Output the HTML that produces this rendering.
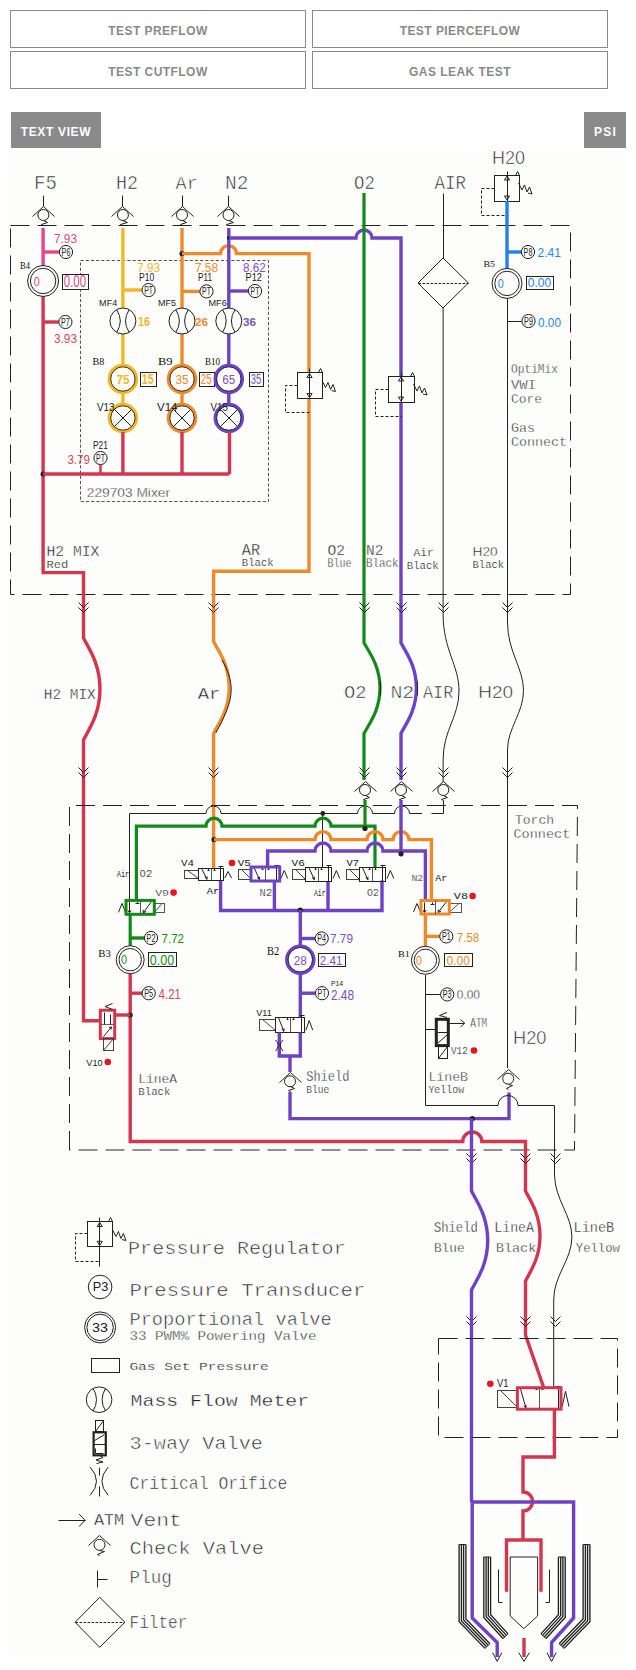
<!DOCTYPE html><html><head><meta charset="utf-8"><style>html,body{margin:0;padding:0;background:#fff;}body{width:636px;height:1670px;overflow:hidden;position:relative;font-family:"Liberation Sans",sans-serif;}.b{position:absolute;box-sizing:border-box;border:1px solid #8a8a8a;background:#fff;color:#8a8a8a;font-weight:bold;font-size:12px;text-align:center;letter-spacing:0.45px;}.g{position:absolute;background:#8a8a8a;color:#fff;font-weight:bold;font-size:12px;text-align:center;letter-spacing:0.45px;}svg{position:absolute;left:0;top:0;}</style></head><body>
<div class="b" style="left:10px;top:10px;width:296px;height:38px;line-height:40px;">TEST PREFLOW</div>
<div class="b" style="left:312px;top:10px;width:296px;height:38px;line-height:40px;">TEST PIERCEFLOW</div>
<div class="b" style="left:10px;top:51px;width:296px;height:38px;line-height:40px;">TEST CUTFLOW</div>
<div class="b" style="left:312px;top:51px;width:296px;height:38px;line-height:40px;">GAS LEAK TEST</div>
<div class="g" style="left:11px;top:112px;width:90px;height:36px;line-height:40px;letter-spacing:0.65px;">TEXT VIEW</div>
<div class="g" style="left:584px;top:112px;width:42px;height:36px;line-height:40px;letter-spacing:1.2px;text-indent:1px;">PSI</div>
<svg width="636" height="1670" viewBox="0 0 636 1670" style="top:0">
<rect x="8" y="150" width="620" height="1511" fill="#fdfdfc"/>
<rect x="10.5" y="225.5" width="560.0" height="369.0" fill="none" stroke="#222" stroke-width="1" stroke-dasharray="19,8"/>
<rect x="80.5" y="260.5" width="188.0" height="241.0" fill="none" stroke="#555" stroke-width="1" stroke-dasharray="3.2,2"/>
<text x="34.0" y="189.0" font-size="19.73" font-family="Liberation Mono" fill="#222" font-weight="normal" stroke="#fdfdfc" stroke-width="0.59" textLength="23.0" lengthAdjust="spacingAndGlyphs">F5</text>
<text x="116.0" y="189.0" font-size="19.73" font-family="Liberation Mono" fill="#222" font-weight="normal" stroke="#fdfdfc" stroke-width="0.59" textLength="22.0" lengthAdjust="spacingAndGlyphs">H2</text>
<text x="175.6" y="189.0" font-size="17.94" font-family="Liberation Mono" fill="#222" font-weight="normal" stroke="#fdfdfc" stroke-width="0.54" textLength="22.1" lengthAdjust="spacingAndGlyphs">Ar</text>
<text x="225.0" y="189.0" font-size="19.73" font-family="Liberation Mono" fill="#222" font-weight="normal" stroke="#fdfdfc" stroke-width="0.59" textLength="23.5" lengthAdjust="spacingAndGlyphs">N2</text>
<text x="354.0" y="189.0" font-size="19.73" font-family="Liberation Mono" fill="#222" font-weight="normal" stroke="#fdfdfc" stroke-width="0.59" textLength="20.8" lengthAdjust="spacingAndGlyphs">O2</text>
<text x="434.5" y="189.0" font-size="19.73" font-family="Liberation Mono" fill="#222" font-weight="normal" stroke="#fdfdfc" stroke-width="0.59" textLength="31.5" lengthAdjust="spacingAndGlyphs">AIR</text>
<text x="492.0" y="164.0" font-size="18.90" font-family="Liberation Sans" fill="#222" font-weight="normal" stroke="#fdfdfc" stroke-width="0.57" textLength="33.0" lengthAdjust="spacingAndGlyphs">H20</text>
<polyline points="43.5,195.5 43.5,206.5" fill="none" stroke="#222" stroke-width="1" />
<polyline points="32.5,216.5 43.5,206.5 54.5,216.5" fill="none" stroke="#222" stroke-width="1" />
<circle cx="43.4" cy="215.0" r="5.5" fill="none" stroke="#222" stroke-width="1"/>
<polyline points="43.5,220.5 47.5,222.5 41.5,224.5 43.5,225.5" fill="none" stroke="#222" stroke-width="1" />
<polyline points="122.5,195.5 122.5,206.5" fill="none" stroke="#222" stroke-width="1" />
<polyline points="111.5,216.5 122.5,206.5 133.5,216.5" fill="none" stroke="#222" stroke-width="1" />
<circle cx="122.9" cy="215.0" r="5.5" fill="none" stroke="#222" stroke-width="1"/>
<polyline points="122.5,220.5 127.5,222.5 120.5,224.5 122.5,225.5" fill="none" stroke="#222" stroke-width="1" />
<polyline points="182.5,195.5 182.5,206.5" fill="none" stroke="#222" stroke-width="1" />
<polyline points="171.5,216.5 182.5,206.5 193.5,216.5" fill="none" stroke="#222" stroke-width="1" />
<circle cx="182.0" cy="215.0" r="5.5" fill="none" stroke="#222" stroke-width="1"/>
<polyline points="182.5,220.5 186.5,222.5 180.5,224.5 182.5,225.5" fill="none" stroke="#222" stroke-width="1" />
<polyline points="228.5,195.5 228.5,206.5" fill="none" stroke="#222" stroke-width="1" />
<polyline points="217.5,216.5 228.5,206.5 239.5,216.5" fill="none" stroke="#222" stroke-width="1" />
<circle cx="228.5" cy="215.0" r="5.5" fill="none" stroke="#222" stroke-width="1"/>
<polyline points="228.5,220.5 233.5,222.5 226.5,224.5 228.5,225.5" fill="none" stroke="#222" stroke-width="1" />
<polyline points="43.1,228.0 43.1,266.0" fill="none" stroke="#e6458a" stroke-width="3.4" />
<polyline points="43.1,252.0 59.4,252.0" fill="none" stroke="#e6458a" stroke-width="3.4" />
<circle cx="66.0" cy="252.0" r="6.6" fill="#fdfdfc" stroke="#222" stroke-width="1"/>
<text x="61.6" y="255.6" font-size="10.47" font-family="Liberation Sans" fill="#222" font-weight="normal" textLength="8.8" lengthAdjust="spacingAndGlyphs">P6</text>
<text x="54.0" y="243.0" font-size="13.08" font-family="Liberation Sans" fill="#d84c86" font-weight="normal" textLength="23.0" lengthAdjust="spacingAndGlyphs">7.93</text>
<text x="20.0" y="269.0" font-size="10.69" font-family="Liberation Serif" fill="#111" font-weight="normal" textLength="10.0" lengthAdjust="spacingAndGlyphs">B4</text>
<path d="M43.1,296 V572.6 H83.5 V638 L83.5,638 C88.5,648.2 100.0,663.5 100.0,689.0 C100.0,714.5 88.5,729.8 83.5,740 V1020.7 H100.3" fill="none" stroke="#d2374f" stroke-width="3.4" />
<circle cx="43.1" cy="281.0" r="15.5" fill="#fdfdfc" stroke="#222" stroke-width="1"/>
<circle cx="43.1" cy="281.0" r="12.7" fill="none" stroke="#222" stroke-width="1"/>
<text x="33.8" y="285.6" font-size="13.08" font-family="Liberation Sans" fill="#d84c86" font-weight="normal" textLength="6.0" lengthAdjust="spacingAndGlyphs">0</text>
<rect x="62.5" y="274.5" width="26.0" height="15.0" fill="#fdfdfc" stroke="#222" stroke-width="1" />
<text x="63.8" y="287.0" font-size="15.70" font-family="Liberation Sans" fill="#d84c86" font-weight="normal" textLength="22.3" lengthAdjust="spacingAndGlyphs">0.00</text>
<polyline points="43.1,322.0 58.8,322.0" fill="none" stroke="#d2374f" stroke-width="3.4" />
<circle cx="65.4" cy="322.0" r="6.6" fill="#fdfdfc" stroke="#222" stroke-width="1"/>
<text x="61.0" y="325.6" font-size="10.47" font-family="Liberation Sans" fill="#222" font-weight="normal" textLength="8.8" lengthAdjust="spacingAndGlyphs">P7</text>
<text x="54.0" y="343.0" font-size="13.08" font-family="Liberation Sans" fill="#d04a5c" font-weight="normal" textLength="23.0" lengthAdjust="spacingAndGlyphs">3.93</text>
<circle cx="43.1" cy="474.0" r="2.6" fill="#222"/>
<polyline points="43.1,474.0 229.5,474.0" fill="none" stroke="#d2374f" stroke-width="3.4" />
<polyline points="122.9,228.0 122.9,366.0" fill="none" stroke="#f2b824" stroke-width="3.4" />
<polyline points="122.9,290.0 142.0,290.0" fill="none" stroke="#f2b824" stroke-width="3.4" />
<circle cx="148.6" cy="290.1" r="6.6" fill="#fdfdfc" stroke="#222" stroke-width="1"/>
<text x="144.2" y="293.7" font-size="10.47" font-family="Liberation Sans" fill="#222" font-weight="normal" textLength="8.8" lengthAdjust="spacingAndGlyphs">PT</text>
<text x="137.3" y="271.5" font-size="12.35" font-family="Liberation Sans" fill="#f0b830" font-weight="normal" textLength="22.7" lengthAdjust="spacingAndGlyphs">7.93</text>
<text x="139.0" y="280.5" font-size="10.32" font-family="Liberation Sans" fill="#222" font-weight="normal" textLength="15.2" lengthAdjust="spacingAndGlyphs">P10</text>
<text x="99.1" y="305.8" font-size="9.59" font-family="Liberation Sans" fill="#222" font-weight="normal" textLength="18.1" lengthAdjust="spacingAndGlyphs">MF4</text>
<circle cx="122.9" cy="321.0" r="13.0" fill="#fdfdfc" stroke="#222" stroke-width="1"/>
<path d="M116.8,309.9 Q123.8,321.0 116.8,332.1" fill="none" stroke="#222" stroke-width="1" />
<path d="M129.0,309.9 Q122.0,321.0 129.0,332.1" fill="none" stroke="#222" stroke-width="1" />
<text x="138.0" y="326.0" font-size="12.21" font-family="Liberation Sans" fill="#f0b830" font-weight="bold" textLength="12.0" lengthAdjust="spacingAndGlyphs">16</text>
<polyline points="122.9,392.0 122.9,405.0" fill="none" stroke="#f2b824" stroke-width="3.4" />
<circle cx="122.9" cy="379.0" r="13.6" fill="#fdfdfc" stroke="#f2b824" stroke-width="3.3"/>
<circle cx="122.9" cy="379.0" r="12.2" fill="none" stroke="#222" stroke-width="0.9"/>
<text x="116.4" y="384.4" font-size="13.08" font-family="Liberation Sans" fill="#f0b830" font-weight="bold" textLength="13.0" lengthAdjust="spacingAndGlyphs">75</text>
<rect x="140.5" y="372.5" width="16.0" height="14.0" fill="#fdfdfc" stroke="#222" stroke-width="1" />
<text x="141.8" y="384.0" font-size="14.24" font-family="Liberation Sans" fill="#f0b830" font-weight="bold" textLength="11.8" lengthAdjust="spacingAndGlyphs">15</text>
<text x="92.6" y="365.0" font-size="10.69" font-family="Liberation Serif" fill="#111" font-weight="normal" textLength="11.8" lengthAdjust="spacingAndGlyphs">B8</text>
<circle cx="122.9" cy="418.0" r="13.6" fill="#fdfdfc" stroke="#f2b824" stroke-width="3.3"/>
<circle cx="122.9" cy="418.0" r="12.2" fill="none" stroke="#222" stroke-width="0.9"/>
<polyline points="114.5,409.5 131.5,426.5" fill="none" stroke="#222" stroke-width="1" />
<polyline points="114.5,426.5 131.5,409.5" fill="none" stroke="#222" stroke-width="1" />
<text x="97.0" y="411.0" font-size="10.17" font-family="Liberation Sans" fill="#222" font-weight="normal" textLength="17.5" lengthAdjust="spacingAndGlyphs">V13</text>
<polyline points="122.9,432.0 122.9,474.0" fill="none" stroke="#d2374f" stroke-width="3.4" />
<circle cx="100.5" cy="458.0" r="6.6" fill="#fdfdfc" stroke="#222" stroke-width="1"/>
<text x="96.1" y="461.6" font-size="10.47" font-family="Liberation Sans" fill="#222" font-weight="normal" textLength="8.8" lengthAdjust="spacingAndGlyphs">PT</text>
<polyline points="100.5,465.0 100.5,474.0" fill="none" stroke="#d2374f" stroke-width="2.5" />
<text x="93.0" y="449.0" font-size="11.63" font-family="Liberation Sans" fill="#222" font-weight="normal" textLength="15.0" lengthAdjust="spacingAndGlyphs">P21</text>
<text x="67.4" y="464.0" font-size="13.08" font-family="Liberation Sans" fill="#d04a5c" font-weight="normal" textLength="22.6" lengthAdjust="spacingAndGlyphs">3.79</text>
<text x="86.8" y="496.6" font-size="12.50" font-family="Liberation Sans" fill="#222" font-weight="normal" stroke="#fdfdfc" stroke-width="0.34" textLength="83.2" lengthAdjust="spacingAndGlyphs">229703  Mixer</text>
<polyline points="182.0,228.0 182.0,366.0" fill="none" stroke="#ef8a2a" stroke-width="3.4" />
<circle cx="182.0" cy="253.6" r="2.6" fill="#222"/>
<path d="M182,253.6 H220.5 A8,8 0 0 1 236.5,253.6 H309 V571.3 H213.6 V641.6 L213.6,641.6 C218.3,650.8 229.2,664.5 229.2,687.5 C229.2,710.5 218.3,724.2 213.6,733.4 V868" fill="none" stroke="#ef8a2a" stroke-width="3.4" />
<polyline points="182.0,291.4 200.0,291.4" fill="none" stroke="#ef8a2a" stroke-width="3.4" />
<circle cx="206.5" cy="291.4" r="6.6" fill="#fdfdfc" stroke="#222" stroke-width="1"/>
<text x="202.1" y="295.0" font-size="10.47" font-family="Liberation Sans" fill="#222" font-weight="normal" textLength="8.8" lengthAdjust="spacingAndGlyphs">PT</text>
<text x="195.0" y="272.0" font-size="13.08" font-family="Liberation Sans" fill="#ef8a30" font-weight="normal" textLength="23.0" lengthAdjust="spacingAndGlyphs">7.58</text>
<text x="198.0" y="281.0" font-size="11.63" font-family="Liberation Sans" fill="#222" font-weight="normal" textLength="14.0" lengthAdjust="spacingAndGlyphs">P11</text>
<text x="158.0" y="305.8" font-size="9.59" font-family="Liberation Sans" fill="#222" font-weight="normal" textLength="18.0" lengthAdjust="spacingAndGlyphs">MF5</text>
<circle cx="182.0" cy="321.0" r="13.0" fill="#fdfdfc" stroke="#222" stroke-width="1"/>
<path d="M175.9,309.9 Q182.9,321.0 175.9,332.1" fill="none" stroke="#222" stroke-width="1" />
<path d="M188.1,309.9 Q181.1,321.0 188.1,332.1" fill="none" stroke="#222" stroke-width="1" />
<text x="195.0" y="326.0" font-size="11.63" font-family="Liberation Sans" fill="#ef8a30" font-weight="bold" textLength="13.0" lengthAdjust="spacingAndGlyphs">26</text>
<polyline points="182.0,392.0 182.0,405.0" fill="none" stroke="#ef8a2a" stroke-width="3.4" />
<circle cx="182.0" cy="379.0" r="13.6" fill="#fdfdfc" stroke="#ef8a2a" stroke-width="3.3"/>
<circle cx="182.0" cy="379.0" r="12.2" fill="none" stroke="#222" stroke-width="0.9"/>
<text x="175.5" y="384.4" font-size="13.08" font-family="Liberation Sans" fill="#ef8a30" font-weight="normal" textLength="13.0" lengthAdjust="spacingAndGlyphs">35</text>
<rect x="199.5" y="372.5" width="15.0" height="14.0" fill="#fdfdfc" stroke="#222" stroke-width="1" />
<text x="200.8" y="384.0" font-size="14.24" font-family="Liberation Sans" fill="#ef8a30" font-weight="normal" textLength="10.8" lengthAdjust="spacingAndGlyphs">25</text>
<text x="158.0" y="365.0" font-size="10.69" font-family="Liberation Serif" fill="#111" font-weight="normal" textLength="14.6" lengthAdjust="spacingAndGlyphs">B9</text>
<circle cx="182.0" cy="418.0" r="13.6" fill="#fdfdfc" stroke="#ef8a2a" stroke-width="3.3"/>
<circle cx="182.0" cy="418.0" r="12.2" fill="none" stroke="#222" stroke-width="0.9"/>
<polyline points="173.5,409.5 190.5,426.5" fill="none" stroke="#222" stroke-width="1" />
<polyline points="173.5,426.5 190.5,409.5" fill="none" stroke="#222" stroke-width="1" />
<text x="157.0" y="410.8" font-size="10.61" font-family="Liberation Sans" fill="#222" font-weight="normal" textLength="20.5" lengthAdjust="spacingAndGlyphs">V14</text>
<polyline points="182.0,432.0 182.0,474.0" fill="none" stroke="#d2374f" stroke-width="3.4" />
<polyline points="228.8,228.0 228.8,366.0" fill="none" stroke="#6e42c4" stroke-width="3.4" />
<circle cx="228.8" cy="238.0" r="2" fill="#222"/>
<path d="M228.8,238 H356 A8,8 0 0 1 372,238 H401 V642.8 L401,642.8 C405.6,651.9 416.4,665.4 416.4,688.1 C416.4,710.7 405.6,724.3 401,733.4 V780" fill="none" stroke="#6e42c4" stroke-width="3.4" />
<polyline points="228.8,291.0 248.5,291.0" fill="none" stroke="#6e42c4" stroke-width="3.4" />
<circle cx="255.0" cy="291.0" r="6.6" fill="#fdfdfc" stroke="#222" stroke-width="1"/>
<text x="250.6" y="294.6" font-size="10.47" font-family="Liberation Sans" fill="#222" font-weight="normal" textLength="8.8" lengthAdjust="spacingAndGlyphs">PT</text>
<text x="243.0" y="272.0" font-size="13.08" font-family="Liberation Sans" fill="#7a52c8" font-weight="normal" textLength="22.6" lengthAdjust="spacingAndGlyphs">8.62</text>
<text x="245.5" y="281.0" font-size="11.63" font-family="Liberation Sans" fill="#222" font-weight="normal" textLength="16.5" lengthAdjust="spacingAndGlyphs">P12</text>
<text x="208.5" y="305.8" font-size="9.59" font-family="Liberation Sans" fill="#222" font-weight="normal" textLength="18.2" lengthAdjust="spacingAndGlyphs">MF6</text>
<circle cx="228.8" cy="321.0" r="13.0" fill="#fdfdfc" stroke="#222" stroke-width="1"/>
<path d="M222.7,309.9 Q229.7,321.0 222.7,332.1" fill="none" stroke="#222" stroke-width="1" />
<path d="M234.9,309.9 Q227.9,321.0 234.9,332.1" fill="none" stroke="#222" stroke-width="1" />
<text x="243.0" y="326.0" font-size="11.63" font-family="Liberation Sans" fill="#7a52c8" font-weight="bold" textLength="13.0" lengthAdjust="spacingAndGlyphs">36</text>
<polyline points="228.8,392.0 228.8,405.0" fill="none" stroke="#6e42c4" stroke-width="3.4" />
<circle cx="228.8" cy="379.0" r="13.6" fill="#fdfdfc" stroke="#6e42c4" stroke-width="3.3"/>
<circle cx="228.8" cy="379.0" r="12.2" fill="none" stroke="#222" stroke-width="0.9"/>
<text x="222.3" y="384.4" font-size="13.08" font-family="Liberation Sans" fill="#7a52c8" font-weight="normal" textLength="13.0" lengthAdjust="spacingAndGlyphs">65</text>
<rect x="249.5" y="372.5" width="14.0" height="14.0" fill="#fdfdfc" stroke="#222" stroke-width="1" />
<text x="250.8" y="384.0" font-size="14.24" font-family="Liberation Sans" fill="#7a52c8" font-weight="normal" textLength="10.4" lengthAdjust="spacingAndGlyphs">35</text>
<text x="205.0" y="365.0" font-size="10.69" font-family="Liberation Serif" fill="#111" font-weight="normal" textLength="15.0" lengthAdjust="spacingAndGlyphs">B10</text>
<circle cx="228.8" cy="418.0" r="13.6" fill="#fdfdfc" stroke="#6e42c4" stroke-width="3.3"/>
<circle cx="228.8" cy="418.0" r="12.2" fill="none" stroke="#222" stroke-width="0.9"/>
<polyline points="220.5,409.5 237.5,426.5" fill="none" stroke="#222" stroke-width="1" />
<polyline points="220.5,426.5 237.5,409.5" fill="none" stroke="#222" stroke-width="1" />
<text x="210.5" y="410.8" font-size="10.61" font-family="Liberation Sans" fill="#222" font-weight="normal" textLength="17.3" lengthAdjust="spacingAndGlyphs">V15</text>
<polyline points="229.5,432.0 229.5,474.0" fill="none" stroke="#d2374f" stroke-width="3.4" />
<rect x="297.5" y="372.5" width="25.0" height="26.0" fill="#fdfdfc" stroke="#222" stroke-width="1" />
<polyline points="309.5,368.5 309.5,398.5" fill="none" stroke="#222" stroke-width="1" />
<polyline points="306.9,377.5 309.5,373.5 312.1,377.5 306.9,377.5" fill="none" stroke="#222" stroke-width="1" />
<polyline points="306.9,393.6 309.5,397.6 312.1,393.6 306.9,393.6" fill="none" stroke="#222" stroke-width="1" />
<polyline points="322.0,380.5 325.5,387.5 328.0,382.5 330.5,389.5 333.0,384.5 335.5,391.5 331.5,390.5" fill="none" stroke="#222" stroke-width="1" />
<polyline points="318.5,372.5 320.5,368.5 322.5,372.5" fill="none" stroke="#222" stroke-width="1" />
<polyline points="297.5,385.5 285.5,385.5 285.5,412.5 309.5,412.5" fill="none" stroke="#222" stroke-width="1" stroke-dasharray="3,2"/>
<rect x="388.5" y="376.5" width="26.0" height="26.0" fill="#fdfdfc" stroke="#222" stroke-width="1" />
<polyline points="401.5,372.5 401.5,402.5" fill="none" stroke="#222" stroke-width="1" />
<polyline points="398.4,381.0 401.0,377.0 403.6,381.0 398.4,381.0" fill="none" stroke="#222" stroke-width="1" />
<polyline points="398.4,397.0 401.0,401.0 403.6,397.0 398.4,397.0" fill="none" stroke="#222" stroke-width="1" />
<polyline points="413.5,384.0 417.0,391.0 419.5,386.0 422.0,393.0 424.5,388.0 427.0,395.0 423.0,394.0" fill="none" stroke="#222" stroke-width="1" />
<polyline points="410.5,376.5 412.5,372.5 414.5,376.5" fill="none" stroke="#222" stroke-width="1" />
<polyline points="388.5,389.5 375.5,389.5 375.5,416.5 401.5,416.5" fill="none" stroke="#222" stroke-width="1" stroke-dasharray="3,2"/>
<path d="M222,660 C228,670 231.2,680 231.2,690 C231.2,703 224,718 215.8,733" fill="none" stroke="#222" stroke-width="1" />
<path d="M364,193 V642.8 L364,642.8 C368.8,651.9 380.0,665.4 380.0,688.1 C380.0,710.7 368.8,724.3 364,733.4 V780" fill="none" stroke="#138a18" stroke-width="3.2" />
<polyline points="380.5,681.5 380.5,695.5" fill="none" stroke="#222" stroke-width="1" />
<polyline points="417.5,681.5 417.5,695.5" fill="none" stroke="#222" stroke-width="1" />
<polyline points="443.5,193.5 443.5,258.5" fill="none" stroke="#222" stroke-width="1" />
<polygon points="443,258 468.4,283 443,308 418,283" fill="none" stroke="#222" stroke-width="1"/>
<polyline points="418.5,283.5 468.5,283.5" fill="none" stroke="#222" stroke-width="1" stroke-dasharray="2.5,1.5"/>
<path d="M443.1,308 V614 C443.1,650 459,665 459,691 C459,717 443.1,730 443.1,760 V782" fill="none" stroke="#222" stroke-width="1" />
<rect x="494.5" y="175.5" width="25.0" height="26.0" fill="#fdfdfc" stroke="#222" stroke-width="1" />
<polyline points="507.5,171.5 507.5,201.5" fill="none" stroke="#222" stroke-width="1" />
<polyline points="504.4,180.0 507.0,176.0 509.6,180.0 504.4,180.0" fill="none" stroke="#222" stroke-width="1" />
<polyline points="504.4,196.0 507.0,200.0 509.6,196.0 504.4,196.0" fill="none" stroke="#222" stroke-width="1" />
<polyline points="518.5,183.0 522.0,190.0 524.5,185.0 527.0,192.0 529.5,187.0 532.0,194.0 528.0,193.0" fill="none" stroke="#222" stroke-width="1" />
<polyline points="515.5,175.5 517.5,171.5 519.5,175.5" fill="none" stroke="#222" stroke-width="1" />
<polyline points="494.5,188.5 481.5,188.5 481.5,215.5 507.5,215.5" fill="none" stroke="#222" stroke-width="1" stroke-dasharray="3,2"/>
<polyline points="507.0,201.0 507.0,268.0" fill="none" stroke="#1f80e8" stroke-width="3.4" />
<polyline points="507.0,252.0 521.0,252.0" fill="none" stroke="#1f80e8" stroke-width="3.4" />
<circle cx="528.0" cy="252.0" r="6.6" fill="#fdfdfc" stroke="#222" stroke-width="1"/>
<text x="523.6" y="255.6" font-size="10.47" font-family="Liberation Sans" fill="#222" font-weight="normal" textLength="8.8" lengthAdjust="spacingAndGlyphs">P8</text>
<text x="537.6" y="257.0" font-size="13.08" font-family="Liberation Sans" fill="#2a86e0" font-weight="normal" textLength="23.4" lengthAdjust="spacingAndGlyphs">2.41</text>
<text x="483.5" y="267.0" font-size="9.16" font-family="Liberation Serif" fill="#111" font-weight="normal" textLength="11.5" lengthAdjust="spacingAndGlyphs">B5</text>
<circle cx="507.0" cy="283.4" r="15.0" fill="#fdfdfc" stroke="#222" stroke-width="1"/>
<circle cx="507.0" cy="283.4" r="12.2" fill="none" stroke="#222" stroke-width="1"/>
<text x="497.7" y="288.0" font-size="13.08" font-family="Liberation Sans" fill="#2a86e0" font-weight="normal" textLength="6.0" lengthAdjust="spacingAndGlyphs">0</text>
<rect x="526.5" y="276.5" width="27.0" height="13.0" fill="#fdfdfc" stroke="#222" stroke-width="1" />
<text x="527.8" y="287.0" font-size="12.79" font-family="Liberation Sans" fill="#2a86e0" font-weight="normal" textLength="23.3" lengthAdjust="spacingAndGlyphs">0.00</text>
<path d="M507.5,298.4 V622 C507.5,652 523.5,668 523.5,690.6 C523.5,713 507.5,728 507.5,750 V1068" fill="none" stroke="#222" stroke-width="1" />
<polyline points="507.5,321.5 521.5,321.5" fill="none" stroke="#222" stroke-width="1" />
<circle cx="528.5" cy="321.0" r="6.6" fill="#fdfdfc" stroke="#222" stroke-width="1"/>
<text x="524.1" y="324.6" font-size="10.47" font-family="Liberation Sans" fill="#222" font-weight="normal" textLength="8.8" lengthAdjust="spacingAndGlyphs">P9</text>
<text x="538.0" y="327.0" font-size="12.50" font-family="Liberation Sans" fill="#2a86e0" font-weight="normal" textLength="23.0" lengthAdjust="spacingAndGlyphs">0.00</text>
<text x="511.0" y="373.0" font-size="12.42" font-family="Liberation Mono" fill="#222" font-weight="normal" stroke="#fdfdfc" stroke-width="0.34" textLength="47.0" lengthAdjust="spacingAndGlyphs">OptiMix</text>
<text x="511.0" y="389.0" font-size="13.66" font-family="Liberation Mono" fill="#222" font-weight="normal" stroke="#fdfdfc" stroke-width="0.34" textLength="25.0" lengthAdjust="spacingAndGlyphs">VWI</text>
<text x="511.0" y="403.0" font-size="12.42" font-family="Liberation Mono" fill="#222" font-weight="normal" stroke="#fdfdfc" stroke-width="0.34" textLength="31.0" lengthAdjust="spacingAndGlyphs">Core</text>
<text x="511.0" y="432.0" font-size="12.42" font-family="Liberation Mono" fill="#222" font-weight="normal" stroke="#fdfdfc" stroke-width="0.34" textLength="24.0" lengthAdjust="spacingAndGlyphs">Gas</text>
<text x="511.0" y="446.0" font-size="12.42" font-family="Liberation Mono" fill="#222" font-weight="normal" stroke="#fdfdfc" stroke-width="0.34" textLength="56.0" lengthAdjust="spacingAndGlyphs">Connect</text>
<text x="46.5" y="555.7" font-size="15.33" font-family="Liberation Mono" fill="#222" font-weight="normal" stroke="#fdfdfc" stroke-width="0.34" textLength="52.9" lengthAdjust="spacingAndGlyphs">H2  MIX</text>
<text x="46.5" y="567.8" font-size="10.76" font-family="Liberation Mono" fill="#222" font-weight="normal" stroke="#fdfdfc" stroke-width="0.22" textLength="21.9" lengthAdjust="spacingAndGlyphs">Red</text>
<text x="241.8" y="554.5" font-size="15.93" font-family="Liberation Mono" fill="#222" font-weight="normal" stroke="#fdfdfc" stroke-width="0.34" textLength="18.2" lengthAdjust="spacingAndGlyphs">AR</text>
<text x="241.8" y="565.8" font-size="10.76" font-family="Liberation Mono" fill="#222" font-weight="normal" stroke="#fdfdfc" stroke-width="0.22" textLength="31.9" lengthAdjust="spacingAndGlyphs">Black</text>
<text x="327.5" y="554.5" font-size="15.33" font-family="Liberation Mono" fill="#222" font-weight="normal" stroke="#fdfdfc" stroke-width="0.34" textLength="17.5" lengthAdjust="spacingAndGlyphs">O2</text>
<text x="327.5" y="567.0" font-size="12.42" font-family="Liberation Mono" fill="#222" font-weight="normal" stroke="#fdfdfc" stroke-width="0.34" textLength="23.9" lengthAdjust="spacingAndGlyphs">Blue</text>
<text x="366.0" y="554.5" font-size="15.33" font-family="Liberation Mono" fill="#222" font-weight="normal" stroke="#fdfdfc" stroke-width="0.34" textLength="17.4" lengthAdjust="spacingAndGlyphs">N2</text>
<text x="366.0" y="567.0" font-size="12.42" font-family="Liberation Mono" fill="#222" font-weight="normal" stroke="#fdfdfc" stroke-width="0.34" textLength="32.5" lengthAdjust="spacingAndGlyphs">Black</text>
<text x="413.6" y="556.0" font-size="11.45" font-family="Liberation Mono" fill="#222" font-weight="normal" stroke="#fdfdfc" stroke-width="0.22" textLength="20.1" lengthAdjust="spacingAndGlyphs">Air</text>
<text x="406.8" y="568.8" font-size="10.76" font-family="Liberation Mono" fill="#222" font-weight="normal" stroke="#fdfdfc" stroke-width="0.22" textLength="31.9" lengthAdjust="spacingAndGlyphs">Black</text>
<text x="472.6" y="555.7" font-size="13.52" font-family="Liberation Sans" fill="#222" font-weight="normal" stroke="#fdfdfc" stroke-width="0.34" textLength="25.1" lengthAdjust="spacingAndGlyphs">H20</text>
<text x="472.6" y="568.3" font-size="11.45" font-family="Liberation Mono" fill="#222" font-weight="normal" stroke="#fdfdfc" stroke-width="0.22" textLength="31.4" lengthAdjust="spacingAndGlyphs">Black</text>
<polyline points="78.5,602.5 83.5,607.5 88.5,602.5" fill="none" stroke="#222" stroke-width="1" />
<polyline points="78.5,607.5 83.5,612.5 88.5,607.5" fill="none" stroke="#222" stroke-width="1" />
<polyline points="208.5,602.5 213.5,607.5 218.5,602.5" fill="none" stroke="#222" stroke-width="1" />
<polyline points="208.5,607.5 213.5,612.5 218.5,607.5" fill="none" stroke="#222" stroke-width="1" />
<polyline points="359.5,602.5 364.5,607.5 369.5,602.5" fill="none" stroke="#222" stroke-width="1" />
<polyline points="359.5,607.5 364.5,612.5 369.5,607.5" fill="none" stroke="#222" stroke-width="1" />
<polyline points="396.5,602.5 401.5,607.5 406.5,602.5" fill="none" stroke="#222" stroke-width="1" />
<polyline points="396.5,607.5 401.5,612.5 406.5,607.5" fill="none" stroke="#222" stroke-width="1" />
<polyline points="438.5,602.5 443.5,607.5 448.5,602.5" fill="none" stroke="#222" stroke-width="1" />
<polyline points="438.5,607.5 443.5,612.5 448.5,607.5" fill="none" stroke="#222" stroke-width="1" />
<polyline points="502.5,602.5 507.5,607.5 512.5,602.5" fill="none" stroke="#222" stroke-width="1" />
<polyline points="502.5,607.5 507.5,612.5 512.5,607.5" fill="none" stroke="#222" stroke-width="1" />
<polyline points="78.5,767.5 83.5,772.5 88.5,767.5" fill="none" stroke="#222" stroke-width="1" />
<polyline points="78.5,772.5 83.5,777.5 88.5,772.5" fill="none" stroke="#222" stroke-width="1" />
<polyline points="208.5,767.5 213.5,772.5 218.5,767.5" fill="none" stroke="#222" stroke-width="1" />
<polyline points="208.5,772.5 213.5,777.5 218.5,772.5" fill="none" stroke="#222" stroke-width="1" />
<polyline points="359.5,767.5 364.5,772.5 369.5,767.5" fill="none" stroke="#222" stroke-width="1" />
<polyline points="359.5,772.5 364.5,777.5 369.5,772.5" fill="none" stroke="#222" stroke-width="1" />
<polyline points="396.5,767.5 401.5,772.5 406.5,767.5" fill="none" stroke="#222" stroke-width="1" />
<polyline points="396.5,772.5 401.5,777.5 406.5,772.5" fill="none" stroke="#222" stroke-width="1" />
<polyline points="438.5,767.5 443.5,772.5 448.5,767.5" fill="none" stroke="#222" stroke-width="1" />
<polyline points="438.5,772.5 443.5,777.5 448.5,772.5" fill="none" stroke="#222" stroke-width="1" />
<polyline points="502.5,767.5 507.5,772.5 512.5,767.5" fill="none" stroke="#222" stroke-width="1" />
<polyline points="502.5,772.5 507.5,777.5 512.5,772.5" fill="none" stroke="#222" stroke-width="1" />
<text x="43.8" y="698.7" font-size="14.11" font-family="Liberation Mono" fill="#222" font-weight="normal" stroke="#fdfdfc" stroke-width="0.34" textLength="52.0" lengthAdjust="spacingAndGlyphs">H2  MIX</text>
<text x="197.7" y="699.4" font-size="15.73" font-family="Liberation Mono" fill="#222" font-weight="normal" stroke="#fdfdfc" stroke-width="0.34" textLength="22.7" lengthAdjust="spacingAndGlyphs">Ar</text>
<text x="344.0" y="698.3" font-size="17.91" font-family="Liberation Mono" fill="#222" font-weight="normal" stroke="#fdfdfc" stroke-width="0.54" textLength="22.5" lengthAdjust="spacingAndGlyphs">O2</text>
<text x="390.4" y="698.3" font-size="17.91" font-family="Liberation Mono" fill="#222" font-weight="normal" stroke="#fdfdfc" stroke-width="0.54" textLength="23.9" lengthAdjust="spacingAndGlyphs">N2</text>
<text x="423.0" y="698.3" font-size="17.91" font-family="Liberation Mono" fill="#222" font-weight="normal" stroke="#fdfdfc" stroke-width="0.54" textLength="30.3" lengthAdjust="spacingAndGlyphs">AIR</text>
<text x="478.2" y="698.3" font-size="17.15" font-family="Liberation Sans" fill="#222" font-weight="normal" stroke="#fdfdfc" stroke-width="0.51" textLength="34.8" lengthAdjust="spacingAndGlyphs">H20</text>
<path d="M69.5,1150 V805.5 H577.5 L574.5,1150 Z" fill="none" stroke="#222" stroke-width="1" stroke-dasharray="19,8"/>
<text x="515.0" y="824.4" font-size="12.42" font-family="Liberation Mono" fill="#222" font-weight="normal" stroke="#fdfdfc" stroke-width="0.34" textLength="39.0" lengthAdjust="spacingAndGlyphs">Torch</text>
<text x="513.5" y="837.8" font-size="12.42" font-family="Liberation Mono" fill="#222" font-weight="normal" stroke="#fdfdfc" stroke-width="0.34" textLength="56.8" lengthAdjust="spacingAndGlyphs">Connect</text>
<polyline points="354.5,791.5 365.5,781.5 376.5,791.5" fill="none" stroke="#222" stroke-width="1" />
<circle cx="365.0" cy="790.0" r="5.5" fill="none" stroke="#222" stroke-width="1"/>
<polyline points="365.5,795.5 369.5,797.5 363.5,799.5 365.5,800.5" fill="none" stroke="#222" stroke-width="1" />
<polyline points="390.5,791.5 401.5,781.5 412.5,791.5" fill="none" stroke="#222" stroke-width="1" />
<circle cx="401.0" cy="790.0" r="5.5" fill="none" stroke="#222" stroke-width="1"/>
<polyline points="401.5,795.5 405.5,797.5 399.5,799.5 401.5,800.5" fill="none" stroke="#222" stroke-width="1" />
<polyline points="432.5,791.5 443.5,781.5 454.5,791.5" fill="none" stroke="#222" stroke-width="1" />
<circle cx="443.3" cy="790.0" r="5.5" fill="none" stroke="#222" stroke-width="1"/>
<polyline points="443.5,795.5 447.5,797.5 441.5,799.5 443.5,800.5" fill="none" stroke="#222" stroke-width="1" />
<path d="M129.5,901 V813.5 H206 A7.5,7.5 0 0 1 221,813.5 H357.5 A7.5,7.5 0 0 1 372.5,813.5 H394.5 A7.5,7.5 0 0 1 409.5,813.5 H422" fill="none" stroke="#222" stroke-width="1" />
<polyline points="431.5,813.5 443.5,813.5 443.5,800.5" fill="none" stroke="#222" stroke-width="1" />
<circle cx="322.8" cy="813.5" r="2.4" fill="#222"/>
<polyline points="322.5,813.5 322.5,867.5" fill="none" stroke="#222" stroke-width="1" />
<path d="M365,800 V826.2" fill="none" stroke="#138a18" stroke-width="3.2" />
<path d="M136.4,900.5 V826.2 H206 A8,8 0 0 1 222,826.2 H315 A8,8 0 0 1 331,826.2 H375 V867" fill="none" stroke="#138a18" stroke-width="3.2" />
<circle cx="365.0" cy="828.5" r="2.6" fill="#222"/>
<circle cx="214.0" cy="839.6" r="2.6" fill="#222"/>
<path d="M214,839.6 H315 A8,8 0 0 1 331,839.6 H367 A8,8 0 0 1 383,839.6 H393 A8,8 0 0 1 409,839.6 H431.4 V900.5" fill="none" stroke="#ef8a2a" stroke-width="3.4" />
<path d="M401,800 V853.8" fill="none" stroke="#6e42c4" stroke-width="3.4" />
<path d="M267.6,867 V851 H315 A8,8 0 0 1 331,851 H367 A8,8 0 0 1 383,851 H425.4 V900.5" fill="none" stroke="#6e42c4" stroke-width="3.4" />
<circle cx="401.0" cy="853.8" r="2.6" fill="#222"/>
<path d="M220.6,880.6 V910.5 H382 V880.6" fill="none" stroke="#6e42c4" stroke-width="3.4" />
<polyline points="274.4,881.0 274.4,910.5" fill="none" stroke="#6e42c4" stroke-width="3.4" />
<polyline points="328.0,881.0 328.0,910.5" fill="none" stroke="#6e42c4" stroke-width="3.4" />
<circle cx="300.3" cy="910.0" r="2.6" fill="#222"/>
<rect x="184.5" y="870.5" width="14.0" height="8.0" fill="none" stroke="#444" stroke-width="1" />
<polyline points="187.5,870.5 198.5,878.5" fill="none" stroke="#444" stroke-width="1" />
<polyline points="224.8,878.1 228.1,871.5 231.6,878.1" fill="none" stroke="#222" stroke-width="1" />
<polyline points="201.3,868.0 207.0,879.3" fill="none" stroke="#222" stroke-width="1" />
<polyline points="204.7,877.1 207.0,879.3 207.1,876.3" fill="none" stroke="#222" stroke-width="1" />
<polyline points="207.5,870.5 209.5,870.5" fill="none" stroke="#222" stroke-width="1" />
<polyline points="208.5,868.5 208.5,870.5" fill="none" stroke="#222" stroke-width="1" />
<polyline points="213.5,870.5 215.5,870.5" fill="none" stroke="#222" stroke-width="1" />
<polyline points="214.5,868.5 214.5,870.5" fill="none" stroke="#222" stroke-width="1" />
<polyline points="220.5,866.5 220.5,880.5" fill="none" stroke="#222" stroke-width="1" />
<polyline points="218.5,866.5 223.5,866.5" fill="none" stroke="#222" stroke-width="1" />
<rect x="198.5" y="868.5" width="25.0" height="12.0" fill="none" stroke="#222" stroke-width="1" />
<polyline points="211.5,868.5 211.5,880.5" fill="none" stroke="#555" stroke-width="1" />
<rect x="238.5" y="869.5" width="13.0" height="10.0" fill="none" stroke="#444" stroke-width="1" />
<polyline points="241.5,869.5 251.5,879.5" fill="none" stroke="#444" stroke-width="1" />
<polyline points="280.9,878.5 284.2,870.5 287.7,878.5" fill="none" stroke="#222" stroke-width="1" />
<polyline points="253.8,867.0 259.5,879.7" fill="none" stroke="#222" stroke-width="1" />
<polyline points="257.2,877.5 259.5,879.7 259.6,876.7" fill="none" stroke="#222" stroke-width="1" />
<polyline points="261.5,869.5 263.5,869.5" fill="none" stroke="#222" stroke-width="1" />
<polyline points="262.5,867.5 262.5,869.5" fill="none" stroke="#222" stroke-width="1" />
<polyline points="267.5,869.5 269.5,869.5" fill="none" stroke="#222" stroke-width="1" />
<polyline points="268.5,867.5 268.5,869.5" fill="none" stroke="#222" stroke-width="1" />
<polyline points="276.5,865.5 276.5,881.5" fill="none" stroke="#222" stroke-width="1" />
<polyline points="274.5,865.5 279.5,865.5" fill="none" stroke="#222" stroke-width="1" />
<rect x="251.0" y="867.0" width="28.7" height="14.0" fill="none" stroke="#6e42c4" stroke-width="3" />
<polyline points="265.5,867.5 265.5,881.5" fill="none" stroke="#555" stroke-width="1" />
<rect x="292.5" y="869.5" width="13.0" height="10.0" fill="none" stroke="#444" stroke-width="1" />
<polyline points="295.5,869.5 305.5,879.5" fill="none" stroke="#444" stroke-width="1" />
<polyline points="333.0,878.5 336.3,870.5 339.8,878.5" fill="none" stroke="#222" stroke-width="1" />
<polyline points="308.6,867.0 314.3,879.7" fill="none" stroke="#222" stroke-width="1" />
<polyline points="312.0,877.5 314.3,879.7 314.4,876.7" fill="none" stroke="#222" stroke-width="1" />
<polyline points="314.5,869.5 316.5,869.5" fill="none" stroke="#222" stroke-width="1" />
<polyline points="315.5,867.5 315.5,869.5" fill="none" stroke="#222" stroke-width="1" />
<polyline points="320.5,869.5 322.5,869.5" fill="none" stroke="#222" stroke-width="1" />
<polyline points="321.5,867.5 321.5,869.5" fill="none" stroke="#222" stroke-width="1" />
<polyline points="328.5,865.5 328.5,881.5" fill="none" stroke="#222" stroke-width="1" />
<polyline points="326.5,865.5 331.5,865.5" fill="none" stroke="#222" stroke-width="1" />
<rect x="305.5" y="867.5" width="26.0" height="14.0" fill="none" stroke="#222" stroke-width="1" />
<polyline points="318.5,867.5 318.5,881.5" fill="none" stroke="#555" stroke-width="1" />
<rect x="346.5" y="869.5" width="13.0" height="10.0" fill="none" stroke="#444" stroke-width="1" />
<polyline points="349.5,869.5 359.5,879.5" fill="none" stroke="#444" stroke-width="1" />
<polyline points="387.0,878.5 390.3,870.5 393.8,878.5" fill="none" stroke="#222" stroke-width="1" />
<polyline points="362.2,867.0 367.9,879.7" fill="none" stroke="#222" stroke-width="1" />
<polyline points="365.6,877.5 367.9,879.7 368.0,876.7" fill="none" stroke="#222" stroke-width="1" />
<polyline points="368.5,869.5 370.5,869.5" fill="none" stroke="#222" stroke-width="1" />
<polyline points="369.5,867.5 369.5,869.5" fill="none" stroke="#222" stroke-width="1" />
<polyline points="374.5,869.5 376.5,869.5" fill="none" stroke="#222" stroke-width="1" />
<polyline points="375.5,867.5 375.5,869.5" fill="none" stroke="#222" stroke-width="1" />
<polyline points="382.5,865.5 382.5,881.5" fill="none" stroke="#222" stroke-width="1" />
<polyline points="380.5,865.5 385.5,865.5" fill="none" stroke="#222" stroke-width="1" />
<rect x="359.5" y="867.5" width="26.0" height="14.0" fill="none" stroke="#222" stroke-width="1" />
<polyline points="372.5,867.5 372.5,881.5" fill="none" stroke="#555" stroke-width="1" />
<rect x="449.5" y="903.5" width="12.0" height="9.0" fill="none" stroke="#555" stroke-width="1" />
<polyline points="449.3,912.3 459.2,903.2" fill="none" stroke="#555" stroke-width="1" />
<polyline points="413.5,912.0 417.0,903.5 420.5,912.0" fill="none" stroke="#222" stroke-width="1" />
<polyline points="424.5,902.5 424.5,912.5" fill="none" stroke="#222" stroke-width="1" />
<polyline points="422.8,910.0 424.5,912.5 426.2,910.0" fill="none" stroke="#222" stroke-width="1" />
<polyline points="432.5,902.5 432.5,904.5" fill="none" stroke="#222" stroke-width="1" />
<polyline points="430.5,904.5 434.5,904.5" fill="none" stroke="#222" stroke-width="1" />
<polyline points="446.3,902.0 438.1,912.5" fill="none" stroke="#222" stroke-width="1" />
<polyline points="438.3,909.5 438.1,912.5 441.1,911.2" fill="none" stroke="#222" stroke-width="1" />
<rect x="421.0" y="900.5" width="28.3" height="13.5" fill="none" stroke="#ef8a2a" stroke-width="3" />
<polyline points="435.5,900.5 435.5,914.5" fill="none" stroke="#555" stroke-width="1" />
<rect x="154.5" y="903.5" width="10.0" height="9.0" fill="none" stroke="#555" stroke-width="1" />
<polyline points="154.3,912.6 162.4,903.1" fill="none" stroke="#555" stroke-width="1" />
<polyline points="118.5,912.3 122.0,903.4 125.5,912.3" fill="none" stroke="#222" stroke-width="1" />
<polyline points="129.5,901.5 129.5,912.5" fill="none" stroke="#222" stroke-width="1" />
<polyline points="127.8,910.3 129.5,912.8 131.2,910.3" fill="none" stroke="#222" stroke-width="1" />
<polyline points="137.5,901.5 137.5,903.5" fill="none" stroke="#222" stroke-width="1" />
<polyline points="135.5,903.5 139.5,903.5" fill="none" stroke="#222" stroke-width="1" />
<polyline points="151.3,901.9 143.2,912.8" fill="none" stroke="#222" stroke-width="1" />
<polyline points="143.3,909.8 143.2,912.8 146.2,911.5" fill="none" stroke="#222" stroke-width="1" />
<rect x="126.0" y="900.4" width="28.3" height="13.9" fill="none" stroke="#138a18" stroke-width="3" />
<polyline points="140.5,900.5 140.5,914.5" fill="none" stroke="#555" stroke-width="1" />
<circle cx="232.0" cy="863.0" r="3.3" fill="#e8141e"/>
<circle cx="173.6" cy="892.6" r="3.3" fill="#e8141e"/>
<circle cx="472.6" cy="896.0" r="3.3" fill="#e8141e"/>
<text x="181.0" y="866.0" font-size="8.50" font-family="Liberation Mono" fill="#222" font-weight="normal" textLength="13.0" lengthAdjust="spacingAndGlyphs">V4</text>
<text x="237.7" y="866.0" font-size="8.50" font-family="Liberation Mono" fill="#222" font-weight="normal" textLength="13.1" lengthAdjust="spacingAndGlyphs">V5</text>
<text x="291.5" y="866.0" font-size="8.50" font-family="Liberation Mono" fill="#222" font-weight="normal" textLength="13.3" lengthAdjust="spacingAndGlyphs">V6</text>
<text x="346.4" y="866.0" font-size="8.50" font-family="Liberation Mono" fill="#222" font-weight="normal" textLength="12.6" lengthAdjust="spacingAndGlyphs">V7</text>
<text x="206.8" y="894.4" font-size="8.83" font-family="Liberation Mono" fill="#222" font-weight="normal" textLength="12.6" lengthAdjust="spacingAndGlyphs">Ar</text>
<text x="259.6" y="895.6" font-size="10.02" font-family="Liberation Mono" fill="#222" font-weight="normal" stroke="#fdfdfc" stroke-width="0.22" textLength="12.6" lengthAdjust="spacingAndGlyphs">N2</text>
<text x="314.0" y="895.6" font-size="9.11" font-family="Liberation Mono" fill="#222" font-weight="normal" textLength="11.5" lengthAdjust="spacingAndGlyphs">Air</text>
<text x="367.0" y="895.6" font-size="10.02" font-family="Liberation Mono" fill="#222" font-weight="normal" stroke="#fdfdfc" stroke-width="0.22" textLength="11.8" lengthAdjust="spacingAndGlyphs">O2</text>
<text x="116.7" y="877.0" font-size="8.28" font-family="Liberation Mono" fill="#222" font-weight="normal" textLength="12.6" lengthAdjust="spacingAndGlyphs">Air</text>
<text x="139.6" y="877.0" font-size="10.62" font-family="Liberation Mono" fill="#222" font-weight="normal" stroke="#fdfdfc" stroke-width="0.22" textLength="12.6" lengthAdjust="spacingAndGlyphs">O2</text>
<text x="155.2" y="896.4" font-size="9.71" font-family="Liberation Mono" fill="#222" font-weight="normal" stroke="#fdfdfc" stroke-width="0.22" textLength="13.8" lengthAdjust="spacingAndGlyphs">V9</text>
<text x="411.4" y="881.0" font-size="9.86" font-family="Liberation Mono" fill="#222" font-weight="normal" stroke="#fdfdfc" stroke-width="0.22" textLength="11.9" lengthAdjust="spacingAndGlyphs">N2</text>
<text x="435.3" y="881.0" font-size="8.97" font-family="Liberation Mono" fill="#222" font-weight="normal" textLength="11.9" lengthAdjust="spacingAndGlyphs">Ar</text>
<text x="453.8" y="899.0" font-size="9.10" font-family="Liberation Mono" fill="#222" font-weight="normal" textLength="14.2" lengthAdjust="spacingAndGlyphs">V8</text>
<path d="M300.3,910 V1017" fill="none" stroke="#6e42c4" stroke-width="3.4" />
<polyline points="300.3,938.5 315.0,938.5" fill="none" stroke="#6e42c4" stroke-width="3.4" />
<circle cx="321.7" cy="938.5" r="6.6" fill="#fdfdfc" stroke="#222" stroke-width="1"/>
<text x="317.3" y="942.1" font-size="10.47" font-family="Liberation Sans" fill="#222" font-weight="normal" textLength="8.8" lengthAdjust="spacingAndGlyphs">P4</text>
<text x="330.0" y="942.7" font-size="13.52" font-family="Liberation Sans" fill="#7a52c8" font-weight="normal" textLength="23.0" lengthAdjust="spacingAndGlyphs">7.79</text>
<circle cx="300.3" cy="959.7" r="13.6" fill="#fdfdfc" stroke="#6e42c4" stroke-width="3.3"/>
<circle cx="300.3" cy="959.7" r="12.2" fill="none" stroke="#222" stroke-width="0.9"/>
<text x="293.8" y="965.1" font-size="13.08" font-family="Liberation Sans" fill="#7a52c8" font-weight="normal" textLength="13.0" lengthAdjust="spacingAndGlyphs">28</text>
<text x="267.1" y="955.0" font-size="12.21" font-family="Liberation Serif" fill="#111" font-weight="normal" textLength="12.2" lengthAdjust="spacingAndGlyphs">B2</text>
<rect x="318.5" y="953.5" width="27.0" height="13.0" fill="#fdfdfc" stroke="#222" stroke-width="1" />
<text x="319.8" y="964.9" font-size="12.94" font-family="Liberation Sans" fill="#7a52c8" font-weight="normal" textLength="22.8" lengthAdjust="spacingAndGlyphs">2.41</text>
<polyline points="300.3,993.2 315.5,993.2" fill="none" stroke="#6e42c4" stroke-width="3.4" />
<circle cx="322.0" cy="993.2" r="6.6" fill="#fdfdfc" stroke="#222" stroke-width="1"/>
<text x="317.6" y="996.8" font-size="10.47" font-family="Liberation Sans" fill="#222" font-weight="normal" textLength="8.8" lengthAdjust="spacingAndGlyphs">PT</text>
<text x="331.0" y="986.3" font-size="7.41" font-family="Liberation Sans" fill="#222" font-weight="normal" textLength="12.1" lengthAdjust="spacingAndGlyphs">P14</text>
<text x="331.0" y="1000.0" font-size="15.55" font-family="Liberation Sans" fill="#7a52c8" font-weight="normal" textLength="23.0" lengthAdjust="spacingAndGlyphs">2.48</text>
<text x="256.3" y="1015.6" font-size="9.59" font-family="Liberation Sans" fill="#222" font-weight="normal" textLength="15.5" lengthAdjust="spacingAndGlyphs">V11</text>
<rect x="259.5" y="1019.5" width="16.0" height="11.0" fill="none" stroke="#444" stroke-width="1" />
<polyline points="262.5,1019.5 275.5,1030.5" fill="none" stroke="#444" stroke-width="1" />
<polyline points="305.9,1030.1 309.2,1020.5 312.7,1030.1" fill="none" stroke="#222" stroke-width="1" />
<polyline points="278.2,1017.0 283.9,1031.3" fill="none" stroke="#222" stroke-width="1" />
<polyline points="281.6,1029.1 283.9,1031.3 284.0,1028.3" fill="none" stroke="#222" stroke-width="1" />
<polyline points="286.5,1019.5 288.5,1019.5" fill="none" stroke="#222" stroke-width="1" />
<polyline points="287.5,1017.5 287.5,1019.5" fill="none" stroke="#222" stroke-width="1" />
<polyline points="292.5,1019.5 294.5,1019.5" fill="none" stroke="#222" stroke-width="1" />
<polyline points="293.5,1017.5 293.5,1019.5" fill="none" stroke="#222" stroke-width="1" />
<polyline points="301.5,1015.5 301.5,1032.5" fill="none" stroke="#222" stroke-width="1" />
<polyline points="299.5,1015.5 304.5,1015.5" fill="none" stroke="#222" stroke-width="1" />
<rect x="275.5" y="1017.5" width="29.0" height="15.0" fill="none" stroke="#222" stroke-width="1" />
<polyline points="290.5,1017.5 290.5,1032.5" fill="none" stroke="#555" stroke-width="1" />
<path d="M279.3,1032.6 V1056 H300.3 V1032.6" fill="none" stroke="#6e42c4" stroke-width="3.4" />
<path d="M275.5,1040 Q281,1045 275.5,1051" fill="none" stroke="#222" stroke-width="1" />
<path d="M283,1040 Q277.5,1045 283,1051" fill="none" stroke="#222" stroke-width="1" />
<polyline points="290.0,1056.0 290.0,1072.0" fill="none" stroke="#6e42c4" stroke-width="3.4" />
<polyline points="279.5,1082.5 290.5,1072.5 301.5,1082.5" fill="none" stroke="#222" stroke-width="1" />
<circle cx="290.0" cy="1081.3" r="5.5" fill="none" stroke="#222" stroke-width="1"/>
<polyline points="290.5,1086.5 294.5,1088.5 288.5,1090.5 290.5,1091.5" fill="none" stroke="#222" stroke-width="1" />
<path d="M290,1092 V1118.6 H509 V1092.6" fill="none" stroke="#6e42c4" stroke-width="3.4" />
<circle cx="472.3" cy="1118.6" r="2.6" fill="#222"/>
<text x="306.2" y="1081.3" font-size="14.35" font-family="Liberation Mono" fill="#222" font-weight="normal" stroke="#fdfdfc" stroke-width="0.34" textLength="43.3" lengthAdjust="spacingAndGlyphs">Shield</text>
<text x="306.2" y="1093.3" font-size="11.18" font-family="Liberation Mono" fill="#222" font-weight="normal" stroke="#fdfdfc" stroke-width="0.22" textLength="23.0" lengthAdjust="spacingAndGlyphs">Blue</text>
<path d="M130.2,914.3 V946" fill="none" stroke="#138a18" stroke-width="3.2" />
<polyline points="130.2,938.0 144.5,938.0" fill="none" stroke="#138a18" stroke-width="3.4" />
<circle cx="151.0" cy="938.0" r="6.6" fill="#fdfdfc" stroke="#222" stroke-width="1"/>
<text x="146.6" y="941.6" font-size="10.47" font-family="Liberation Sans" fill="#222" font-weight="normal" textLength="8.8" lengthAdjust="spacingAndGlyphs">P2</text>
<text x="161.5" y="942.7" font-size="13.52" font-family="Liberation Sans" fill="#1a8a22" font-weight="normal" textLength="22.5" lengthAdjust="spacingAndGlyphs">7.72</text>
<text x="98.2" y="956.7" font-size="10.23" font-family="Liberation Serif" fill="#111" font-weight="normal" textLength="12.6" lengthAdjust="spacingAndGlyphs">B3</text>
<rect x="148.5" y="952.5" width="28.0" height="14.0" fill="#fdfdfc" stroke="#222" stroke-width="1" />
<text x="149.8" y="964.9" font-size="14.24" font-family="Liberation Sans" fill="#1a8a22" font-weight="normal" textLength="24.3" lengthAdjust="spacingAndGlyphs">0.00</text>
<path d="M130.2,974 V1141.5 H462.8 A9.5,9.5 0 0 1 481.8,1141.5 H525.5 V1191 L525.5,1191 C529.9,1200.0 540.0,1213.5 540.0,1236.0 C540.0,1258.5 529.9,1272.0 525.5,1281 V1335 L543.8,1387.7" fill="none" stroke="#d2374f" stroke-width="3.4" />
<circle cx="130.2" cy="959.7" r="14.0" fill="#fdfdfc" stroke="#222" stroke-width="1"/>
<circle cx="130.2" cy="959.7" r="11.2" fill="none" stroke="#222" stroke-width="1"/>
<text x="120.9" y="964.3" font-size="13.08" font-family="Liberation Sans" fill="#1a8a22" font-weight="normal" textLength="6.0" lengthAdjust="spacingAndGlyphs">0</text>
<polyline points="130.2,993.2 142.0,993.2" fill="none" stroke="#d2374f" stroke-width="3.4" />
<circle cx="148.7" cy="993.2" r="6.6" fill="#fdfdfc" stroke="#222" stroke-width="1"/>
<text x="144.3" y="996.8" font-size="10.47" font-family="Liberation Sans" fill="#222" font-weight="normal" textLength="8.8" lengthAdjust="spacingAndGlyphs">P5</text>
<text x="158.6" y="999.2" font-size="14.39" font-family="Liberation Sans" fill="#d04a5c" font-weight="normal" textLength="22.4" lengthAdjust="spacingAndGlyphs">4.21</text>
<circle cx="130.2" cy="1015.0" r="2.6" fill="#222"/>
<polyline points="114.7,1015.0 130.2,1015.0" fill="none" stroke="#d2374f" stroke-width="3.4" />
<rect x="100.3" y="1010.2" width="14.4" height="28.4" fill="none" stroke="#d2374f" stroke-width="3" />
<polyline points="100.5,1024.5 114.5,1024.5" fill="none" stroke="#666" stroke-width="1" />
<polyline points="104.5,1012.5 104.5,1024.5" fill="none" stroke="#222" stroke-width="1" />
<polyline points="110.5,1014.5 110.5,1024.5" fill="none" stroke="#222" stroke-width="1" />
<polyline points="103.5,1036.5 111.5,1027.0" fill="none" stroke="#222" stroke-width="1" />
<polyline points="109.0,1027.5 111.5,1027.0 111.0,1029.5" fill="none" stroke="#222" stroke-width="1" />
<rect x="103.5" y="1038.5" width="10.0" height="12.0" fill="none" stroke="#444" stroke-width="1" />
<polyline points="103.5,1050.5 113.5,1038.5" fill="none" stroke="#444" stroke-width="1" />
<polyline points="112.5,1003.5 105.0,1006.5 112.5,1009.5" fill="none" stroke="#222" stroke-width="1" />
<circle cx="107.8" cy="1062.0" r="3.3" fill="#e8141e"/>
<text x="86.3" y="1065.5" font-size="9.45" font-family="Liberation Sans" fill="#222" font-weight="normal" textLength="16.4" lengthAdjust="spacingAndGlyphs">V10</text>
<text x="138.3" y="1082.8" font-size="13.52" font-family="Liberation Mono" fill="#222" font-weight="normal" stroke="#fdfdfc" stroke-width="0.34" textLength="38.8" lengthAdjust="spacingAndGlyphs">LineA</text>
<text x="138.3" y="1094.8" font-size="11.18" font-family="Liberation Mono" fill="#222" font-weight="normal" stroke="#fdfdfc" stroke-width="0.22" textLength="32.2" lengthAdjust="spacingAndGlyphs">Black</text>
<path d="M425.4,914 V946" fill="none" stroke="#ef8a2a" stroke-width="3.4" />
<polyline points="425.4,936.4 440.0,936.4" fill="none" stroke="#ef8a2a" stroke-width="3.4" />
<circle cx="446.3" cy="936.4" r="6.6" fill="#fdfdfc" stroke="#222" stroke-width="1"/>
<text x="441.9" y="940.0" font-size="10.47" font-family="Liberation Sans" fill="#222" font-weight="normal" textLength="8.8" lengthAdjust="spacingAndGlyphs">P1</text>
<text x="456.8" y="942.4" font-size="13.08" font-family="Liberation Sans" fill="#ef8a30" font-weight="normal" textLength="22.4" lengthAdjust="spacingAndGlyphs">7.58</text>
<text x="398.0" y="957.0" font-size="9.16" font-family="Liberation Serif" fill="#111" font-weight="normal" textLength="12.0" lengthAdjust="spacingAndGlyphs">B1</text>
<rect x="444.5" y="953.5" width="28.0" height="13.0" fill="#fdfdfc" stroke="#222" stroke-width="1" />
<text x="446.6" y="964.9" font-size="13.08" font-family="Liberation Sans" fill="#ef8a30" font-weight="normal" textLength="23.3" lengthAdjust="spacingAndGlyphs">0.00</text>
<path d="M425.5,975 V1105.5 H498 A10,10 0 0 1 518,1105.5 H554.5 V1175 C555,1200 571.9,1215 571.9,1237 C571.9,1260 553.7,1275 553.7,1300 V1387.7" fill="none" stroke="#222" stroke-width="1" />
<circle cx="425.4" cy="960.3" r="14.0" fill="#fdfdfc" stroke="#222" stroke-width="1"/>
<circle cx="425.4" cy="960.3" r="11.2" fill="none" stroke="#222" stroke-width="1"/>
<text x="416.1" y="964.9" font-size="13.08" font-family="Liberation Sans" fill="#ef8a30" font-weight="normal" textLength="6.0" lengthAdjust="spacingAndGlyphs">0</text>
<polyline points="425.5,994.5 440.5,994.5" fill="none" stroke="#222" stroke-width="1" />
<circle cx="447.2" cy="994.4" r="6.6" fill="#fdfdfc" stroke="#222" stroke-width="1"/>
<text x="442.8" y="998.0" font-size="10.47" font-family="Liberation Sans" fill="#222" font-weight="normal" textLength="8.8" lengthAdjust="spacingAndGlyphs">P3</text>
<text x="456.8" y="998.8" font-size="12.79" font-family="Liberation Sans" fill="#222" font-weight="normal" stroke="#fdfdfc" stroke-width="0.34" textLength="23.2" lengthAdjust="spacingAndGlyphs">0.00</text>
<rect x="436.3" y="1019.3" width="12.0" height="26.3" fill="none" stroke="#222" stroke-width="3" />
<polyline points="437.5,1032.5 447.5,1032.5" fill="none" stroke="#222" stroke-width="1" />
<polyline points="438.0,1043.0 447.0,1035.0" fill="none" stroke="#222" stroke-width="1" />
<rect x="438.5" y="1046.5" width="9.0" height="12.0" fill="none" stroke="#222" stroke-width="1" />
<polyline points="438.5,1058.5 447.5,1046.5" fill="none" stroke="#222" stroke-width="1" />
<polyline points="447.0,1012.5 439.5,1015.5 447.0,1017.5" fill="none" stroke="#222" stroke-width="1" />
<polyline points="425.5,1029.5 436.5,1029.5" fill="none" stroke="#222" stroke-width="1" />
<polyline points="449.5,1023.5 464.5,1023.5" fill="none" stroke="#222" stroke-width="1" />
<polyline points="460.5,1019.5 464.7,1023.2 460.5,1027.0" fill="none" stroke="#222" stroke-width="1" />
<text x="470.3" y="1026.5" font-size="12.14" font-family="Liberation Mono" fill="#222" font-weight="normal" stroke="#fdfdfc" stroke-width="0.34" textLength="17.0" lengthAdjust="spacingAndGlyphs">ATM</text>
<circle cx="474.0" cy="1050.5" r="3.3" fill="#e8141e"/>
<text x="451.0" y="1054.2" font-size="10.17" font-family="Liberation Mono" fill="#222" font-weight="normal" stroke="#fdfdfc" stroke-width="0.22" textLength="16.8" lengthAdjust="spacingAndGlyphs">V12</text>
<text x="428.4" y="1081.0" font-size="12.42" font-family="Liberation Mono" fill="#222" font-weight="normal" stroke="#fdfdfc" stroke-width="0.34" textLength="39.6" lengthAdjust="spacingAndGlyphs">LineB</text>
<text x="428.4" y="1093.0" font-size="10.35" font-family="Liberation Mono" fill="#222" font-weight="normal" stroke="#fdfdfc" stroke-width="0.22" textLength="35.8" lengthAdjust="spacingAndGlyphs">Yellow</text>
<polyline points="497.5,1079.5 508.5,1069.5 519.5,1079.5" fill="none" stroke="#222" stroke-width="1" />
<circle cx="508.2" cy="1078.7" r="5.5" fill="none" stroke="#222" stroke-width="1"/>
<polyline points="508.5,1084.5 512.5,1085.5 506.5,1088.5 508.5,1089.5" fill="none" stroke="#222" stroke-width="1" />
<text x="513.0" y="1044.2" font-size="18.17" font-family="Liberation Sans" fill="#222" font-weight="normal" stroke="#fdfdfc" stroke-width="0.55" textLength="33.4" lengthAdjust="spacingAndGlyphs">H20</text>
<polyline points="466.5,1153.5 471.5,1158.5 476.5,1153.5" fill="none" stroke="#222" stroke-width="1" />
<polyline points="466.5,1158.5 471.5,1163.5 476.5,1158.5" fill="none" stroke="#222" stroke-width="1" />
<polyline points="466.5,1316.5 471.5,1321.5 476.5,1316.5" fill="none" stroke="#222" stroke-width="1" />
<polyline points="466.5,1321.5 471.5,1326.5 476.5,1321.5" fill="none" stroke="#222" stroke-width="1" />
<polyline points="520.5,1153.5 525.5,1158.5 530.5,1153.5" fill="none" stroke="#222" stroke-width="1" />
<polyline points="520.5,1158.5 525.5,1163.5 530.5,1158.5" fill="none" stroke="#222" stroke-width="1" />
<polyline points="520.5,1316.5 525.5,1321.5 530.5,1316.5" fill="none" stroke="#222" stroke-width="1" />
<polyline points="520.5,1321.5 525.5,1326.5 530.5,1321.5" fill="none" stroke="#222" stroke-width="1" />
<polyline points="550.5,1153.5 555.5,1158.5 560.5,1153.5" fill="none" stroke="#222" stroke-width="1" />
<polyline points="550.5,1158.5 555.5,1163.5 560.5,1158.5" fill="none" stroke="#222" stroke-width="1" />
<polyline points="550.5,1316.5 555.5,1321.5 560.5,1316.5" fill="none" stroke="#222" stroke-width="1" />
<polyline points="550.5,1321.5 555.5,1326.5 560.5,1321.5" fill="none" stroke="#222" stroke-width="1" />
<path d="M471.5,1118.6 V1191 L471.5,1191 C476.4,1200.9 487.7,1215.8 487.7,1240.5 C487.7,1265.2 476.4,1280.1 471.5,1290 V1502" fill="none" stroke="#6e42c4" stroke-width="3.4" />
<text x="433.9" y="1232.4" font-size="14.63" font-family="Liberation Mono" fill="#222" font-weight="normal" stroke="#fdfdfc" stroke-width="0.34" textLength="43.9" lengthAdjust="spacingAndGlyphs">Shield</text>
<text x="433.9" y="1251.5" font-size="13.66" font-family="Liberation Mono" fill="#222" font-weight="normal" stroke="#fdfdfc" stroke-width="0.34" textLength="30.7" lengthAdjust="spacingAndGlyphs">Blue</text>
<text x="494.3" y="1232.4" font-size="14.63" font-family="Liberation Mono" fill="#222" font-weight="normal" stroke="#fdfdfc" stroke-width="0.34" textLength="39.6" lengthAdjust="spacingAndGlyphs">LineA</text>
<text x="496.0" y="1251.5" font-size="13.66" font-family="Liberation Mono" fill="#222" font-weight="normal" stroke="#fdfdfc" stroke-width="0.34" textLength="40.2" lengthAdjust="spacingAndGlyphs">Black</text>
<text x="573.5" y="1232.4" font-size="14.63" font-family="Liberation Mono" fill="#222" font-weight="normal" stroke="#fdfdfc" stroke-width="0.34" textLength="40.7" lengthAdjust="spacingAndGlyphs">LineB</text>
<text x="575.8" y="1251.5" font-size="13.66" font-family="Liberation Mono" fill="#222" font-weight="normal" stroke="#fdfdfc" stroke-width="0.34" textLength="44.0" lengthAdjust="spacingAndGlyphs">Yellow</text>
<rect x="438.5" y="1338.5" width="179.0" height="99.0" fill="none" stroke="#222" stroke-width="1" stroke-dasharray="19,8"/>
<rect x="497.5" y="1390.5" width="20.0" height="17.0" fill="none" stroke="#444" stroke-width="1" />
<polyline points="500.5,1390.5 517.5,1407.5" fill="none" stroke="#444" stroke-width="1" />
<polyline points="562.2,1406.7 565.5,1391.2 569.0,1406.7" fill="none" stroke="#222" stroke-width="1" />
<polyline points="520.2,1387.7 525.9,1407.9" fill="none" stroke="#222" stroke-width="1" />
<polyline points="523.6,1405.7 525.9,1407.9 526.0,1404.9" fill="none" stroke="#222" stroke-width="1" />
<polyline points="535.5,1389.5 537.5,1389.5" fill="none" stroke="#222" stroke-width="1" />
<polyline points="536.5,1387.5 536.5,1389.5" fill="none" stroke="#222" stroke-width="1" />
<polyline points="541.5,1389.5 543.5,1389.5" fill="none" stroke="#222" stroke-width="1" />
<polyline points="542.5,1387.5 542.5,1389.5" fill="none" stroke="#222" stroke-width="1" />
<polyline points="558.5,1386.5 558.5,1409.5" fill="none" stroke="#222" stroke-width="1" />
<polyline points="555.5,1386.5 560.5,1386.5" fill="none" stroke="#222" stroke-width="1" />
<rect x="517.4" y="1387.7" width="43.6" height="21.5" fill="none" stroke="#d2374f" stroke-width="3" />
<polyline points="539.5,1387.5 539.5,1409.5" fill="none" stroke="#555" stroke-width="1" />
<circle cx="490.3" cy="1383.7" r="3.3" fill="#e8141e"/>
<text x="497.0" y="1387.0" font-size="10.17" font-family="Liberation Sans" fill="#222" font-weight="normal" textLength="11.5" lengthAdjust="spacingAndGlyphs">V1</text>
<path d="M554.4,1409.2 V1457 H523 V1492 A9.5,9.5 0 0 1 523,1511 V1540" fill="none" stroke="#d2374f" stroke-width="3.4" />
<path d="M506.5,1591.8 V1540 H541 V1591.8" fill="none" stroke="#d2374f" stroke-width="3.4" />
<path d="M472.2,1502 V1618 L497.2,1642.5 V1657" fill="none" stroke="#6e42c4" stroke-width="3.4" />
<path d="M472.2,1502 H573.6 V1618 L551.6,1642.5 V1657" fill="none" stroke="#6e42c4" stroke-width="3.4" />
<polyline points="492.6,1652.6 497.2,1661.4 501.8,1652.6" fill="none" stroke="#222" stroke-width="1" />
<polyline points="547.0,1652.6 551.6,1661.4 556.2,1652.6" fill="none" stroke="#222" stroke-width="1" />
<polyline points="524.0,1638.0 524.0,1657.0" fill="none" stroke="#d2374f" stroke-width="3.4" />
<polyline points="518.6,1652.6 524.0,1661.4 529.5,1652.6" fill="none" stroke="#222" stroke-width="1" />
<polygon points="510.2,1557 537.6,1557 537.6,1616 523.8,1628.6 510.2,1616" fill="none" stroke="#222" stroke-width="1"/>
<polyline points="498.5,1569.5 498.5,1602.5 502.5,1602.5" fill="none" stroke="#222" stroke-width="1" />
<polyline points="549.5,1569.5 549.5,1602.5 545.5,1602.5" fill="none" stroke="#222" stroke-width="1" />
<polyline points="459.1,1544.5 459.1,1621.8 485.0,1648.4" fill="none" stroke="#222" stroke-width="1.35" />
<polyline points="461.4,1544.5 461.4,1620.9 486.6,1646.8" fill="none" stroke="#222" stroke-width="1.35" />
<polyline points="463.6,1544.5 463.6,1620.0 488.2,1645.2" fill="none" stroke="#222" stroke-width="1.35" />
<polyline points="465.9,1544.5 465.9,1619.0 489.9,1643.7" fill="none" stroke="#222" stroke-width="1.35" />
<polyline points="459.1,1544.5 465.9,1544.5" fill="none" stroke="#222" stroke-width="1" />
<polyline points="485.0,1648.4 489.9,1643.7" fill="none" stroke="#222" stroke-width="1" />
<polyline points="483.8,1557.0 483.8,1617.4 503.0,1638.5" fill="none" stroke="#222" stroke-width="1.35" />
<polyline points="486.1,1557.0 486.1,1616.5 504.7,1637.0" fill="none" stroke="#222" stroke-width="1.35" />
<polyline points="488.3,1557.0 488.3,1615.6 506.4,1635.4" fill="none" stroke="#222" stroke-width="1.35" />
<polyline points="490.6,1557.0 490.6,1614.8 508.0,1633.9" fill="none" stroke="#222" stroke-width="1.35" />
<polyline points="483.8,1557.0 490.6,1557.0" fill="none" stroke="#222" stroke-width="1" />
<polyline points="503.0,1638.5 508.0,1633.9" fill="none" stroke="#222" stroke-width="1" />
<polyline points="589.9,1544.5 589.9,1621.8 564.0,1648.4" fill="none" stroke="#222" stroke-width="1.35" />
<polyline points="587.6,1544.5 587.6,1620.9 562.4,1646.8" fill="none" stroke="#222" stroke-width="1.35" />
<polyline points="585.4,1544.5 585.4,1620.0 560.8,1645.2" fill="none" stroke="#222" stroke-width="1.35" />
<polyline points="583.1,1544.5 583.1,1619.0 559.1,1643.7" fill="none" stroke="#222" stroke-width="1.35" />
<polyline points="589.9,1544.5 583.1,1544.5" fill="none" stroke="#222" stroke-width="1" />
<polyline points="564.0,1648.4 559.1,1643.7" fill="none" stroke="#222" stroke-width="1" />
<polyline points="565.2,1557.0 565.2,1617.4 546.0,1638.5" fill="none" stroke="#222" stroke-width="1.35" />
<polyline points="562.9,1557.0 562.9,1616.5 544.3,1637.0" fill="none" stroke="#222" stroke-width="1.35" />
<polyline points="560.7,1557.0 560.7,1615.6 542.6,1635.4" fill="none" stroke="#222" stroke-width="1.35" />
<polyline points="558.4,1557.0 558.4,1614.8 541.0,1633.9" fill="none" stroke="#222" stroke-width="1.35" />
<polyline points="565.2,1557.0 558.4,1557.0" fill="none" stroke="#222" stroke-width="1" />
<polyline points="546.0,1638.5 541.0,1633.9" fill="none" stroke="#222" stroke-width="1" />
<rect x="87.5" y="1221.5" width="25.0" height="25.0" fill="#fdfdfc" stroke="#222" stroke-width="1" />
<polyline points="99.5,1217.5 99.5,1246.5" fill="none" stroke="#222" stroke-width="1" />
<polyline points="97.1,1226.5 99.7,1222.5 102.3,1226.5 97.1,1226.5" fill="none" stroke="#222" stroke-width="1" />
<polyline points="97.1,1241.3 99.7,1245.3 102.3,1241.3 97.1,1241.3" fill="none" stroke="#222" stroke-width="1" />
<polyline points="112.4,1229.5 115.9,1236.5 118.4,1231.5 120.9,1238.5 123.4,1233.5 125.9,1240.5 121.9,1239.5" fill="none" stroke="#222" stroke-width="1" />
<polyline points="108.5,1221.5 110.5,1217.5 112.5,1221.5" fill="none" stroke="#222" stroke-width="1" />
<polyline points="87.5,1233.5 75.5,1233.5 75.5,1261.5 99.5,1261.5" fill="none" stroke="#222" stroke-width="1" stroke-dasharray="3,2"/>
<polyline points="99.5,1246.5 99.5,1266.5" fill="none" stroke="#222" stroke-width="1" />
<text x="128.0" y="1254.1" font-size="17.66" font-family="Liberation Mono" fill="#222" font-weight="normal" stroke="#fdfdfc" stroke-width="0.53" textLength="217.8" lengthAdjust="spacingAndGlyphs">Pressure  Regulator</text>
<circle cx="100.1" cy="1287.0" r="11.8" fill="none" stroke="#222" stroke-width="1"/>
<text x="92.7" y="1290.8" font-size="13.08" font-family="Liberation Sans" fill="#222" font-weight="normal" textLength="15.7" lengthAdjust="spacingAndGlyphs">P3</text>
<text x="129.4" y="1295.8" font-size="18.77" font-family="Liberation Mono" fill="#222" font-weight="normal" stroke="#fdfdfc" stroke-width="0.56" textLength="236.0" lengthAdjust="spacingAndGlyphs">Pressure  Transducer</text>
<circle cx="100.1" cy="1327.4" r="15.5" fill="none" stroke="#222" stroke-width="1"/>
<circle cx="100.1" cy="1327.4" r="13.2" fill="none" stroke="#222" stroke-width="1"/>
<text x="91.9" y="1331.7" font-size="13.66" font-family="Liberation Sans" fill="#222" font-weight="normal" textLength="16.0" lengthAdjust="spacingAndGlyphs">33</text>
<text x="129.4" y="1325.4" font-size="17.66" font-family="Liberation Mono" fill="#222" font-weight="normal" stroke="#fdfdfc" stroke-width="0.53" textLength="202.3" lengthAdjust="spacingAndGlyphs">Proportional  valve</text>
<text x="129.4" y="1339.8" font-size="12.97" font-family="Liberation Mono" fill="#222" font-weight="normal" stroke="#fdfdfc" stroke-width="0.34" textLength="187.2" lengthAdjust="spacingAndGlyphs">33  PWM%  Powering  Valve</text>
<rect x="91.5" y="1358.5" width="28.0" height="14.0" fill="none" stroke="#222" stroke-width="1" />
<text x="129.4" y="1370.2" font-size="11.45" font-family="Liberation Mono" fill="#222" font-weight="normal" stroke="#fdfdfc" stroke-width="0.22" textLength="139.4" lengthAdjust="spacingAndGlyphs">Gas  Set  Pressure</text>
<circle cx="99.1" cy="1399.7" r="12.8" fill="none" stroke="#222" stroke-width="1"/>
<path d="M93,1388.2 Q100,1399.7 93,1411.2" fill="none" stroke="#222" stroke-width="1" />
<path d="M105.6,1388.2 Q98.6,1399.7 105.6,1411.2" fill="none" stroke="#222" stroke-width="1" />
<text x="130.6" y="1406.2" font-size="16.84" font-family="Liberation Mono" fill="#222" font-weight="normal" stroke="#fdfdfc" stroke-width="0.34" textLength="178.6" lengthAdjust="spacingAndGlyphs">Mass  Flow  Meter</text>
<rect x="95.5" y="1420.5" width="8.0" height="11.0" fill="none" stroke="#222" stroke-width="1" />
<polyline points="95.2,1431.9 103.7,1420.5" fill="none" stroke="#222" stroke-width="1" />
<rect x="93.6" y="1432.3" width="12.2" height="23.0" fill="none" stroke="#222" stroke-width="2.2" />
<polyline points="93.5,1444.5 105.5,1444.5" fill="none" stroke="#222" stroke-width="1" />
<polyline points="104.2,1434.8 94.3,1440.7" fill="none" stroke="#222" stroke-width="1" />
<polyline points="95.5,1448.5 95.5,1453.5 103.5,1453.5" fill="none" stroke="#222" stroke-width="1" />
<polyline points="99.7,1455.5 103.0,1457.5 96.0,1460.0 103.0,1462.0 96.5,1463.5" fill="none" stroke="#222" stroke-width="1" />
<text x="129.6" y="1449.4" font-size="18.35" font-family="Liberation Mono" fill="#222" font-weight="normal" stroke="#fdfdfc" stroke-width="0.55" textLength="133.3" lengthAdjust="spacingAndGlyphs">3-way  Valve</text>
<path d="M90.1,1467.1 Q102.9,1481.2 90.1,1495.4" fill="none" stroke="#222" stroke-width="1" />
<path d="M108.2,1467.1 Q95.6,1481.2 108.2,1495.4" fill="none" stroke="#222" stroke-width="1" />
<polyline points="99.5,1467.5 99.5,1475.5" fill="none" stroke="#222" stroke-width="1" />
<polyline points="99.5,1486.5 99.5,1496.5" fill="none" stroke="#222" stroke-width="1" />
<text x="129.6" y="1488.9" font-size="18.49" font-family="Liberation Mono" fill="#222" font-weight="normal" stroke="#fdfdfc" stroke-width="0.55" textLength="157.9" lengthAdjust="spacingAndGlyphs">Critical  Orifice</text>
<polyline points="58.5,1520.5 85.5,1520.5" fill="none" stroke="#222" stroke-width="1" />
<polyline points="79.1,1514.0 85.0,1520.3 79.1,1526.5" fill="none" stroke="#222" stroke-width="1" />
<text x="93.9" y="1525.1" font-size="16.24" font-family="Liberation Mono" fill="#222" font-weight="normal" stroke="#fdfdfc" stroke-width="0.34" textLength="30.3" lengthAdjust="spacingAndGlyphs">ATM</text>
<text x="130.6" y="1525.5" font-size="18.77" font-family="Liberation Mono" fill="#222" font-weight="normal" stroke="#fdfdfc" stroke-width="0.56" textLength="51.3" lengthAdjust="spacingAndGlyphs">Vent</text>
<polyline points="88.5,1545.5 99.5,1535.5 110.5,1545.5" fill="none" stroke="#222" stroke-width="1" />
<circle cx="99.5" cy="1544.8" r="5.5" fill="none" stroke="#222" stroke-width="1"/>
<polyline points="99.5,1550.5 104.5,1551.5 97.5,1554.5 99.5,1555.5" fill="none" stroke="#222" stroke-width="1" />
<text x="129.6" y="1553.8" font-size="18.77" font-family="Liberation Mono" fill="#222" font-weight="normal" stroke="#fdfdfc" stroke-width="0.56" textLength="134.3" lengthAdjust="spacingAndGlyphs">Check  Valve</text>
<polyline points="97.5,1570.5 97.5,1587.5" fill="none" stroke="#222" stroke-width="1" />
<polyline points="97.5,1579.5 107.5,1579.5" fill="none" stroke="#222" stroke-width="1" />
<text x="129.6" y="1582.5" font-size="18.35" font-family="Liberation Mono" fill="#222" font-weight="normal" stroke="#fdfdfc" stroke-width="0.55" textLength="42.2" lengthAdjust="spacingAndGlyphs">Plug</text>
<polygon points="99.7,1597.3 124.9,1622.3 99.7,1647.3 75.1,1622.3" fill="none" stroke="#222" stroke-width="1"/>
<polyline points="75.5,1622.5 124.5,1622.5" fill="none" stroke="#222" stroke-width="1" stroke-dasharray="2.5,1.5"/>
<text x="129.6" y="1627.8" font-size="18.77" font-family="Liberation Mono" fill="#222" font-weight="normal" stroke="#fdfdfc" stroke-width="0.56" textLength="57.8" lengthAdjust="spacingAndGlyphs">Filter</text>
</svg></body></html>
